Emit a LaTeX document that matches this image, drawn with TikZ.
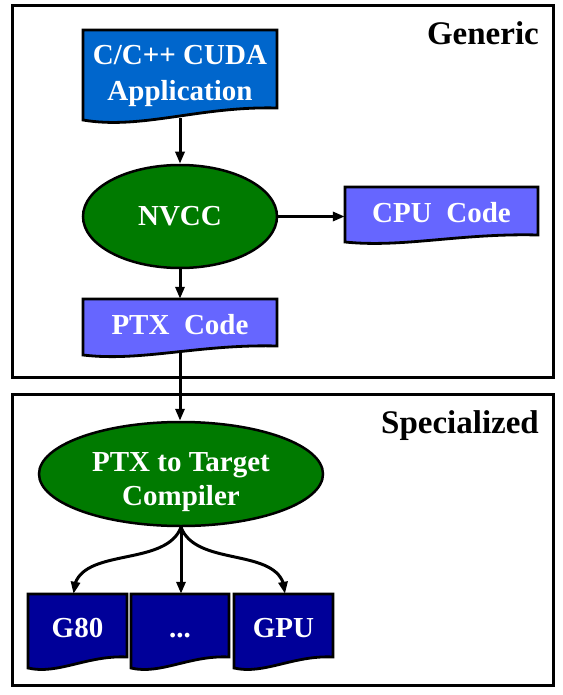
\documentclass[tikz,border=0pt]{standalone}
\usepackage{fontspec}
\setmainfont{Liberation Serif}
\usetikzlibrary{shapes.geometric,arrows.meta,bending}
\definecolor{appblue}{HTML}{0066CC}
\definecolor{lightblue}{HTML}{6666FF}
\definecolor{darkblue}{HTML}{000099}
\definecolor{nvgreen}{HTML}{007A00}
% #1 L, #2 T, #3 R, #4 bottom-left, #5 bottom-right, #6 dip, #7 fill colour
\newcommand\mydoc[7]{%
  \filldraw[docline, fill=#7] (#1,#2) -- (#3,#2) -- (#3,#5)
    .. controls ({#1+0.6*(#3-#1)},{#5-2}) and ({#1+0.3*(#3-#1)},{#4+#6}) .. (#1,#4) -- cycle;}
\tikzset{
  frame/.style={draw, line width=3pt},
  docline/.style={draw, line width=2.8pt, line join=miter},
  doctext/.style={text=white, font=\fontsize{29}{36}\selectfont\bfseries, inner sep=0pt, align=center},
  chip/.style={doctext, text height=19pt, text depth=0pt},
  ellnode/.style={ellipse, draw, line width=2.5pt, fill=nvgreen, text=white,
    font=\fontsize{29}{34}\selectfont\bfseries, inner sep=0pt, align=center},
  flow/.style={line width=3pt, -{Triangle[length=12pt,width=9pt]}},
  region/.style={font=\fontsize{33}{40}\selectfont\bfseries, anchor=base east, inner sep=0pt}
}
\begin{document}
\begin{tikzpicture}[x=1pt,y=-1pt]
\useasboundingbox (0,0) rectangle (562,695);
% frames
\draw[frame] (12.5,5.5) rectangle (553.5,377.5);
\draw[frame] (12.5,394.5) rectangle (553.5,685);
\node[region] (generic) at (539,45) {Generic};
\node[region] (special) at (539,433) {Specialized};
% document shapes
\mydoc{83}{30}{277}{120}{108}{10}{appblue}
\mydoc{345}{187}{538}{242}{235}{6}{lightblue}
\mydoc{83}{299}{277}{355}{346}{7}{lightblue}
\mydoc{28}{594}{127}{668}{657}{7}{darkblue}
\mydoc{131}{594}{229}{668}{657}{7}{darkblue}
\mydoc{234}{594}{333}{668}{657}{7}{darkblue}
% nodes
\node[doctext, minimum width=194pt, minimum height=88pt] (app) at (180,74)
  {\rule{0pt}{24pt}C/C++ CUDA\\Application};
\node[doctext, minimum width=193pt, minimum height=52pt] (cpu) at (441.5,213) {CPU\ \ Code};
\node[doctext, minimum width=194pt, minimum height=52pt] (ptx) at (180,325) {PTX\ \ Code};
\node[chip, minimum width=99pt, minimum height=68pt] (g80) at (77.5,628) {G80};
\node[chip, minimum width=98pt, minimum height=68pt] (dots) at (180,628) {...};
\node[chip, minimum width=99pt, minimum height=68pt] (gpu) at (283.5,628) {GPU};
\node[ellnode, minimum width=194pt, minimum height=103pt] (nvcc) at (180,216.5) {NVCC};
\node[ellnode, minimum width=284pt, minimum height=104pt] (ptxc) at (181,474) {};
\node[doctext, font=\fontsize{29}{34}\selectfont\bfseries] (ptxclabel) at (181,482.5)
  {PTX to Target\\Compiler};
% connectors
\draw[flow] (app.south) -- (nvcc.north);
\draw[flow] (nvcc.east) -- (nvcc.east -| cpu.west);
\draw[flow] (nvcc.south) -- (ptx.north);
\draw[flow] (ptx.south) -- (ptx.south |- ptxc.north);
\draw[flow] (ptxc.south) .. controls +(-16,42) and +(0,-49) .. ([xshift=-4pt]g80.north);
\draw[flow] (ptxc.south) -- (ptxc.south |- dots.north);
\draw[flow] (ptxc.south) .. controls +(16,42) and +(0,-49) .. ([xshift=1.5pt]gpu.north);
\end{tikzpicture}
\end{document}
